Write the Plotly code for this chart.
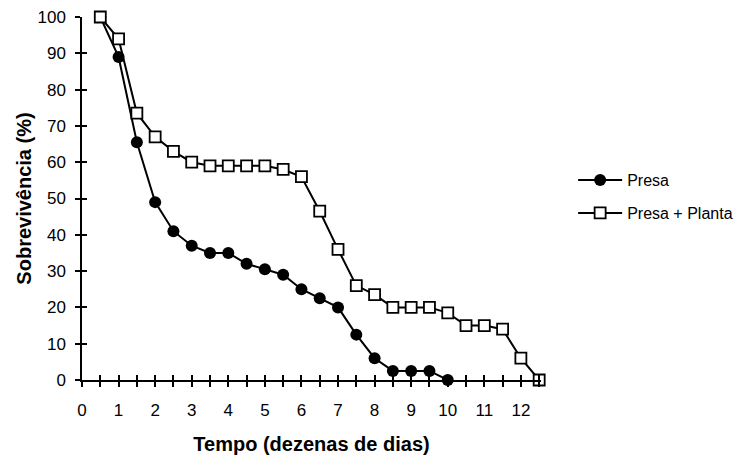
import plotly.graph_objects as go

tempo = [0.5, 1, 1.5, 2, 2.5, 3, 3.5, 4, 4.5, 5, 5.5, 6, 6.5, 7, 7.5, 8, 8.5, 9, 9.5, 10, 10.5, 11, 11.5, 12, 12.5]
presa = [100, 89, 65.5, 49, 41, 37, 35, 35, 32, 30.5, 29, 25, 22.5, 20, 12.5, 6, 2.5, 2.5, 2.5, 0]
presa_planta = [100, 94, 73.5, 67, 63, 60, 59, 59, 59, 59, 58, 56, 46.5, 36, 26, 23.5, 20, 20, 20, 18.5, 15, 15, 14, 6, 0]

x_ticks = [i * 0.5 for i in range(26)]
x_labels = [str(int(v)) if v == int(v) else "" for v in x_ticks]
y_ticks = list(range(0, 101, 10))

FONT = "Liberation Sans, Arial, sans-serif"

fig = go.Figure()
fig.add_trace(go.Scatter(
    x=tempo[:len(presa)], y=presa, name="Presa", mode="lines+markers",
    line=dict(color="black", width=2),
    marker=dict(symbol="circle", size=12, color="black"),
    legendgroup="a", cliponaxis=False,
))
fig.add_trace(go.Scatter(
    x=tempo[:len(presa_planta)], y=presa_planta, name="Presa + Planta", mode="lines+markers",
    line=dict(color="black", width=2),
    marker=dict(symbol="square", size=11, color="white", line=dict(color="black", width=1.8)),
    legendgroup="b", cliponaxis=False,
))
# empty helper trace so the overlay axes (inner half of crossing ticks) are drawn
fig.add_trace(go.Scatter(x=[], y=[], xaxis="x2", yaxis="y2", showlegend=False, hoverinfo="skip"))

axis_common = dict(showgrid=False, zeroline=False, tickcolor="black", tickwidth=1.5,
                   ticklen=5, automargin=False)

fig.update_layout(
    width=743, height=469,
    margin=dict(l=74, r=210, t=9, b=97, autoexpand=False),
    paper_bgcolor="white", plot_bgcolor="white",
    font=dict(family=FONT, size=17, color="black"),
    showlegend=True,
    legend=dict(x=1.07, y=0.505, xanchor="left", yanchor="middle", itemwidth=44,
                font=dict(family=FONT, size=16, color="black"),
                tracegroupgap=9, bgcolor="rgba(0,0,0,0)"),
    xaxis=dict(range=[0, 12.55], tickvals=x_ticks, ticktext=x_labels, ticks="outside",
               showline=True, linecolor="black", linewidth=1.5, ticklabelstandoff=9,
               ticklabeloverflow="allow",
               title=dict(text="<b>Tempo (dezenas de dias)</b>", font=dict(size=20), standoff=18),
               **axis_common),
    yaxis=dict(range=[0, 100], tickvals=y_ticks, ticks="outside", showline=True,
               linecolor="black", linewidth=1.5, ticklabelstandoff=6,
               ticklabeloverflow="allow",
               title=dict(text="<b>Sobrevivência (%)</b>", font=dict(size=20), standoff=0),
               **axis_common),
    xaxis2=dict(range=[0, 12.55], overlaying="x", anchor="y2", tickvals=x_ticks, ticks="inside",
                showticklabels=False, showline=False, **axis_common),
    yaxis2=dict(range=[0, 100], overlaying="y", anchor="x2", tickvals=y_ticks, ticks="inside",
                showticklabels=False, showline=False, **axis_common),
)

fig.write_html("out.html")
